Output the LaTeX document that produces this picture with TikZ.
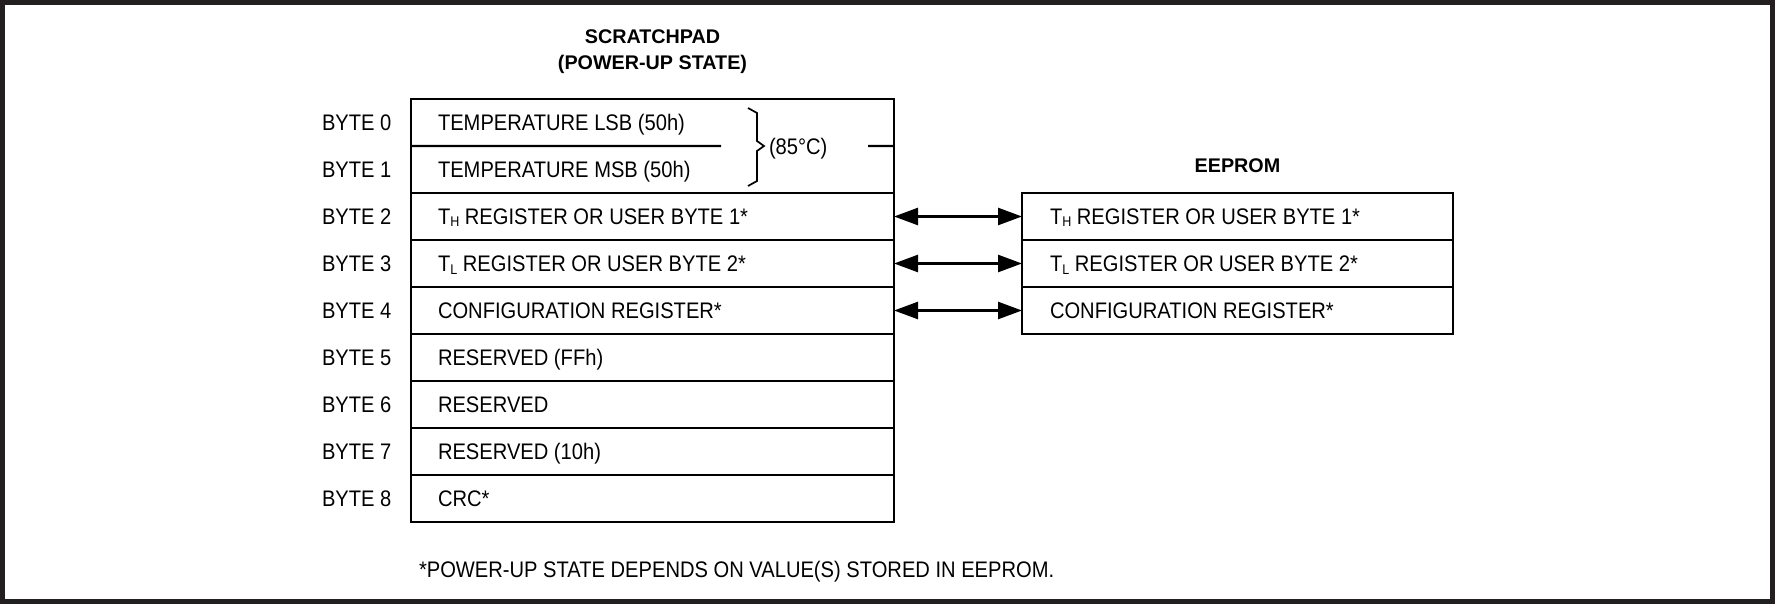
\documentclass[tikz,border=0pt]{standalone}
\usepackage{fontspec}
\newfontfamily\bodyfont{Liberation Sans}[FakeStretch=0.895]
\newfontfamily\headfont{Liberation Sans}
\usetikzlibrary{arrows.meta}
\definecolor{framegray}{RGB}{35,31,32}
\newcommand{\mysub}[1]{\raisebox{-2.5bp}{\fontsize{14bp}{14bp}\selectfont #1}}
\tikzset{
  cell/.style={draw=black, line width=2.4bp, minimum width=483bp, minimum height=47bp,
               anchor=north west, inner sep=0pt, outer sep=0pt},
  ecell/.style={cell, minimum width=431bp},
  txt/.style={anchor=base west, inner sep=0pt, outer sep=0pt,
              font=\bodyfont\fontsize{22.5bp}{27bp}\selectfont},
  head/.style={anchor=base, inner sep=0pt,
               font=\headfont\bfseries\fontsize{19.75bp}{24bp}\selectfont},
  xfer/.style={line width=2.5bp, {Triangle[length=24bp,width=17bp]}-{Triangle[length=24bp,width=17bp]}},
  sepline/.style={line width=2.4bp},
  bracestyle/.style={line width=1.7bp, line join=miter}
}
\begin{document}
\begin{tikzpicture}[x=1bp,y=-1bp]
\useasboundingbox (0,0) rectangle (1775,604);
\draw[framegray, line width=5bp] (2.5,2.5) rectangle (1772.5,601.5);

% titles
\node[head] (sptitle1) at (652.5,44) {SCRATCHPAD};
\node[head] (sptitle2) at (652.5,70) {(POWER-UP STATE)};
\node[head] (eetitle) at (1237.5,173) {EEPROM};

% scratchpad
\node[cell, minimum height=94bp] (sp01) at (411,99) {};
\node[cell] (sp2) at (411,193) {};
\node[cell] (sp3) at (411,240) {};
\node[cell] (sp4) at (411,287) {};
\node[cell] (sp5) at (411,334) {};
\node[cell] (sp6) at (411,381) {};
\node[cell] (sp7) at (411,428) {};
\node[cell] (sp8) at (411,475) {};
\coordinate (sepA) at (721,146);
\coordinate (sepB) at (868,146);
\draw[sepline] (sp01.west) -- (sepA);
\draw[sepline] (sepB) -- (sp01.east);

% brace
\draw[bracestyle] (748,108) -- (757,113) -- (757,141) -- (764,146) -- (757,151) -- (757,181) -- (748,186);
\node[txt] (temp) at (769,155) {(85°C)};

% scratchpad texts
\node[txt] (t0) at (438,130.5) {TEMPERATURE LSB (50h)};
\node[txt] (t1) at (438,177.5) {TEMPERATURE MSB (50h)};
\node[txt] (t2) at (438,224.5) {T\mysub{H} REGISTER OR USER BYTE 1*};
\node[txt] (t3) at (438,271.5) {T\mysub{L} REGISTER OR USER BYTE 2*};
\node[txt] (t4) at (438,318.5) {CONFIGURATION REGISTER*};
\node[txt] (t5) at (438,365.5) {RESERVED (FFh)};
\node[txt] (t6) at (438,412.5) {RESERVED};
\node[txt] (t7) at (438,459.5) {RESERVED (10h)};
\node[txt] (t8) at (438,506.5) {CRC*};

% byte labels
\foreach \i in {0,...,8}
  \node[txt] (b\i) at (322,130.5+47*\i) {BYTE \i};

% eeprom
\node[ecell] (ee2) at (1022,193) {};
\node[ecell] (ee3) at (1022,240) {};
\node[ecell] (ee4) at (1022,287) {};
\node[txt] (e2) at (1050,224.5) {T\mysub{H} REGISTER OR USER BYTE 1*};
\node[txt] (e3) at (1050,271.5) {T\mysub{L} REGISTER OR USER BYTE 2*};
\node[txt] (e4) at (1050,318.5) {CONFIGURATION REGISTER*};

% transfers
\draw[xfer] (sp2.east) -- (ee2.west);
\draw[xfer] (sp3.east) -- (ee3.west);
\draw[xfer] (sp4.east) -- (ee4.west);

% footnote
\node[txt] (note) at (419,577) {*POWER-UP STATE DEPENDS ON VALUE(S) STORED IN EEPROM.};
\end{tikzpicture}
\end{document}
